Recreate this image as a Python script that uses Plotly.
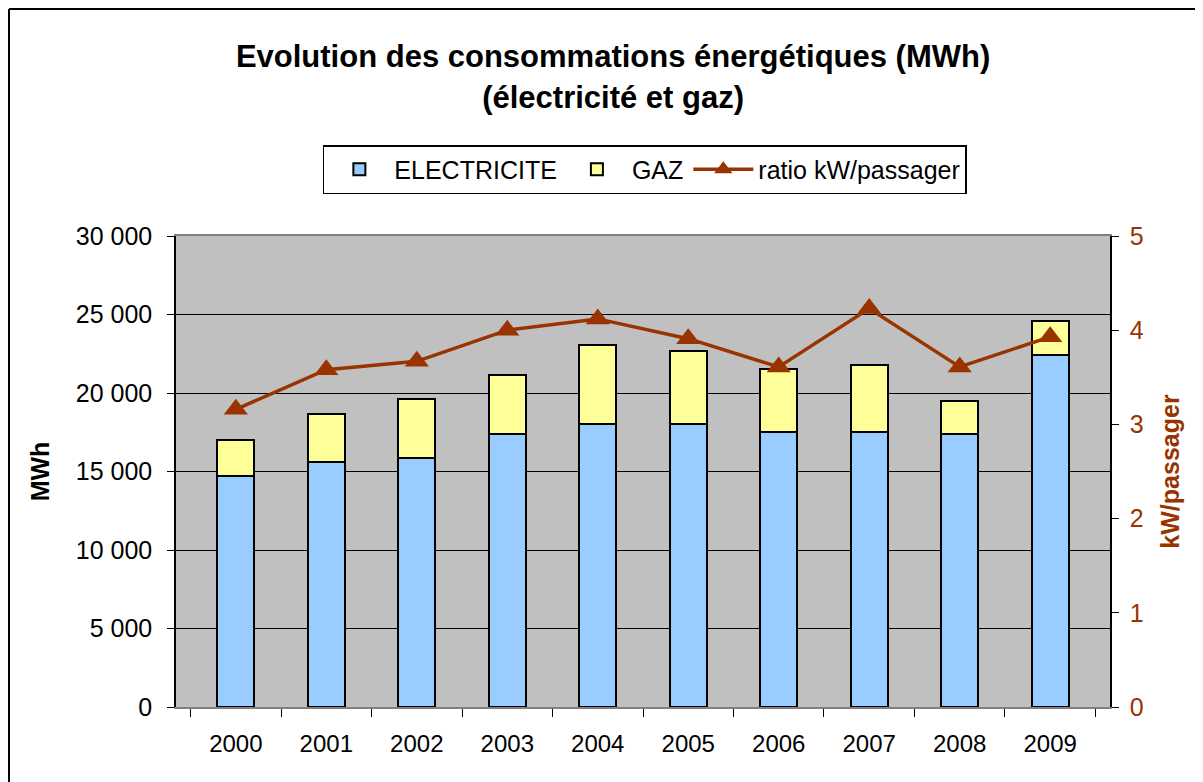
import plotly.graph_objects as go

years = ["2000", "2001", "2002", "2003", "2004", "2005", "2006", "2007", "2008", "2009"]
electricite = [14730, 15620, 15840, 17390, 18030, 18010, 17500, 17500, 17370, 22420]
totals = [17010, 18640, 19620, 21150, 23040, 22660, 21530, 21780, 19510, 24570]
gaz = [t - e for t, e in zip(totals, electricite)]
ratio = [3.16, 3.58, 3.67, 4.00, 4.12, 3.91, 3.61, 4.23, 3.61, 3.93]

left_ticks = [0, 5000, 10000, 15000, 20000, 25000, 30000]
left_labels = ["0", "5 000", "10 000", "15 000", "20 000", "25 000", "30 000"]

FONT = "Arial, Liberation Sans, sans-serif"
BROWN = "#993300"

fig = go.Figure()
fig.add_trace(go.Bar(x=years, y=electricite, name="ELECTRICITE",
                     marker=dict(color="#99CCFF", line=dict(color="black", width=2))))
fig.add_trace(go.Bar(x=years, y=gaz, name="GAZ",
                     marker=dict(color="#FFFF99", line=dict(color="black", width=2))))
fig.add_trace(go.Scatter(x=years, y=ratio, name="ratio kW/passager", yaxis="y2",
                         mode="lines+markers",
                         line=dict(color=BROWN, width=3.5),
                         marker=dict(symbol="triangle-up", size=21, color=BROWN)))

fig.update_layout(
    width=1203, height=782,
    margin=dict(l=168, r=101, t=228, b=83),
    paper_bgcolor="white", plot_bgcolor="#C0C0C0",
    barmode="stack", bargap=0.59,
    font=dict(family=FONT, size=22, color="black"),
    title=dict(text="<b>Evolution des consommations énergétiques (MWh)<br>(électricité et gaz)</b>",
               x=0.503, xanchor="center", y=0.924, yanchor="middle",
               font=dict(family=FONT, size=31, color="black")),
    legend=dict(orientation="h", x=0.502, xanchor="center", y=1.193, yanchor="top",
                bordercolor="black", borderwidth=1.5, bgcolor="white",
                font=dict(family=FONT, size=25), traceorder="normal",
                itemwidth=60),
    showlegend=True,
    xaxis=dict(type="category", tickson="boundaries", ticks="outside", ticklen=8,
               tickcolor="black", showline=True, linecolor="#808080", linewidth=2,
               showgrid=False, tickfont=dict(size=24), mirror=True,
               ticklabelstandoff=14),
    yaxis=dict(range=[0, 30000], tickvals=left_ticks, ticktext=left_labels,
               ticks="outside", ticklen=7, tickcolor="black",
               showline=True, linecolor="black", linewidth=1.5,
               showgrid=True, gridcolor="black", gridwidth=1, zeroline=False,
               tickfont=dict(size=25), ticklabelstandoff=10,
               title=dict(text="<b>MWh</b>", font=dict(size=25), standoff=19)),
    yaxis2=dict(range=[0, 5], dtick=1, overlaying="y", side="right",
                ticks="outside", ticklen=7, tickcolor="black",
                showline=True, linecolor="black", linewidth=1.5,
                showgrid=False, zeroline=False,
                tickfont=dict(size=25, color=BROWN), ticklabelstandoff=6,
                title=dict(text="<b>kW/passager</b>", font=dict(size=25, color=BROWN), standoff=19)),
    shapes=[
        dict(type="line", xref="paper", yref="paper", x0=-0.1788, x1=1.2, y0=1.482, y1=1.482,
             line=dict(color="black", width=2)),
        dict(type="line", xref="paper", yref="paper", x0=-0.1788, x1=-0.1788, y0=1.482, y1=-0.2,
             line=dict(color="black", width=2)),
    ],
)

fig.write_html("out.html")
